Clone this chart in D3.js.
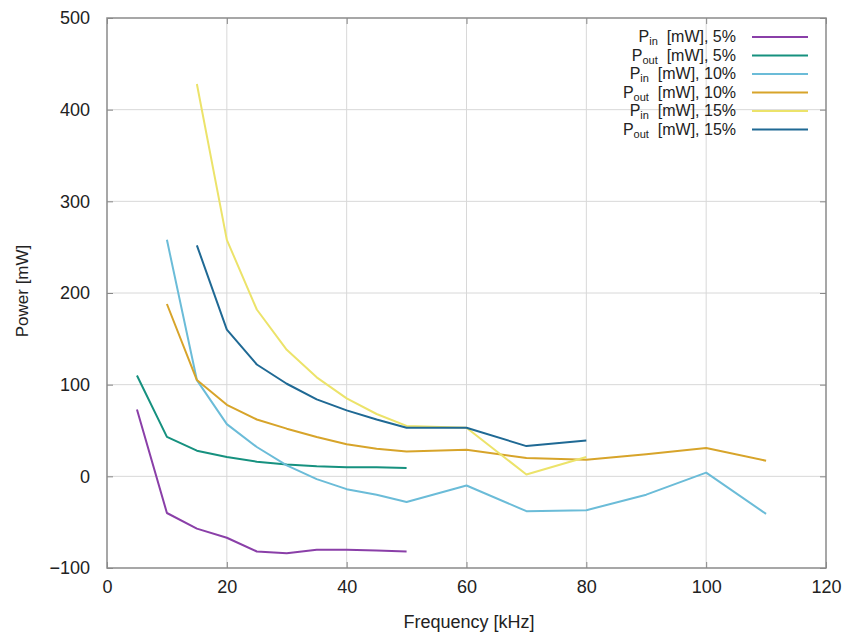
<!DOCTYPE html>
<html>
<head>
<meta charset="utf-8">
<script src="https://cdn.jsdelivr.net/npm/d3@7"></script>
<style>
  body { margin: 0; background: #fff; }
  svg text { font-family: "Liberation Sans", Arial, sans-serif; fill: #222; }
</style>
</head>
<body>
<div id="chart"></div>
<script>
// frequencies (kHz)
const freqShort = [5, 10, 15, 20, 25, 30, 35, 40, 45, 50];
const freqMid = [10, 15, 20, 25, 30, 35, 40, 45, 50, 60, 70, 80, 90, 100, 110];
const freqHigh = [15, 20, 25, 30, 35, 40, 45, 50, 60, 70, 80];

// power values (mW)
const pin5 = [73, -40, -57, -67, -82, -84, -80, -80, -81, -82];
const pout5 = [110, 43, 28, 21, 16, 13, 11, 10, 10, 9];
const pin10 = [258, 105, 57, 32, 12, -3, -14, -20, -28, -10, -38, -37, -20, 4, -41];
const pout10 = [188, 105, 78, 62, 52, 43, 35, 30, 27, 29, 20, 18, 24, 31, 17];
const pin15 = [428, 258, 182, 138, 108, 85, 68, 55, 53, 2, 21];
const pout15 = [252, 160, 122, 101, 84, 72, 62, 53, 53, 33, 39];

const xTicks = [0, 20, 40, 60, 80, 100, 120];
const yTicks = [-100, 0, 100, 200, 300, 400, 500];

const series = [
  {sub: "in", pct: "5%", x: freqShort, y: pin5, color: "#8a3fa8"},
  {sub: "out", pct: "5%", x: freqShort, y: pout5, color: "#16917f"},
  {sub: "in", pct: "10%", x: freqMid, y: pin10, color: "#6bbcd8"},
  {sub: "out", pct: "10%", x: freqMid, y: pout10, color: "#d7a42a"},
  {sub: "in", pct: "15%", x: freqHigh, y: pin15, color: "#ece36a"},
  {sub: "out", pct: "15%", x: freqHigh, y: pout15, color: "#1f6994"}
];

const width = 852, height = 641;
const margin = {top: 18, right: 26, bottom: 73, left: 107};

const svg = d3.select("#chart").append("svg")
  .attr("width", width)
  .attr("height", height);

const x = d3.scaleLinear().domain([0, 120]).range([margin.left, width - margin.right]);
const y = d3.scaleLinear().domain([-100, 500]).range([height - margin.bottom, margin.top]);

// grid
svg.append("g")
  .selectAll("line.gx")
  .data(xTicks.slice(1, -1))
  .enter().append("line")
    .attr("x1", d => x(d)).attr("x2", d => x(d))
    .attr("y1", y(-100)).attr("y2", y(500))
    .attr("stroke", "#d8d8d8").attr("stroke-width", 1);
svg.append("g")
  .selectAll("line.gy")
  .data(yTicks.slice(1, -1))
  .enter().append("line")
    .attr("x1", x(0)).attr("x2", x(120))
    .attr("y1", d => y(d)).attr("y2", d => y(d))
    .attr("stroke", "#d8d8d8").attr("stroke-width", 1);

// axes
const xAxis = svg.append("g")
  .attr("transform", "translate(0," + y(-100) + ")")
  .call(d3.axisBottom(x).tickValues(xTicks).tickSize(-6).tickPadding(12).tickSizeOuter(0));
const yAxis = svg.append("g")
  .attr("transform", "translate(" + x(0) + ",0)")
  .call(d3.axisLeft(y).tickValues(yTicks).tickSize(-6).tickPadding(17).tickSizeOuter(0));
[xAxis, yAxis].forEach(a => {
  a.selectAll("text").style("font-size", "18px").attr("fill", "#222");
  a.selectAll("line").attr("stroke", "#888");
  a.select(".domain").remove();
});

// mirror ticks on top and right
svg.append("g")
  .attr("transform", "translate(0," + y(500) + ")")
  .call(d3.axisTop(x).tickValues(xTicks).tickSize(-6).tickFormat(""))
  .call(g => { g.select(".domain").remove(); g.selectAll("line").attr("stroke", "#888"); });
svg.append("g")
  .attr("transform", "translate(" + x(120) + ",0)")
  .call(d3.axisRight(y).tickValues(yTicks).tickSize(-6).tickFormat(""))
  .call(g => { g.select(".domain").remove(); g.selectAll("line").attr("stroke", "#888"); });

// border
svg.append("rect")
  .attr("x", x(0)).attr("y", y(500))
  .attr("width", x(120) - x(0)).attr("height", y(-100) - y(500))
  .attr("fill", "none").attr("stroke", "#8a8a8a").attr("stroke-width", 1.5);

// lines
const line = d3.line().x(d => x(d[0])).y(d => y(d[1]));
series.forEach(s => {
  svg.append("path")
    .datum(s.x.map((f, i) => [f, s.y[i]]))
    .attr("d", line)
    .attr("fill", "none")
    .attr("stroke", s.color)
    .attr("stroke-width", 2)
    .attr("stroke-linejoin", "round");
});

// legend
const legend = svg.append("g");
series.forEach((s, i) => {
  const ly = 37 + i * 18.5;
  const t = legend.append("text")
    .attr("x", 736).attr("y", ly + 5)
    .attr("text-anchor", "end")
    .style("font-size", "16px");
  t.append("tspan").text("P");
  t.append("tspan").attr("dy", 3).style("font-size", "11px").text(s.sub);
  t.append("tspan").attr("dy", -3).text("  [mW], " + s.pct).attr("xml:space", "preserve");
  legend.append("line")
    .attr("x1", 752).attr("x2", 808)
    .attr("y1", ly).attr("y2", ly)
    .attr("stroke", s.color).attr("stroke-width", 2);
});

// axis titles
svg.append("text")
  .attr("x", 469).attr("y", 628)
  .attr("text-anchor", "middle")
  .style("font-size", "18px")
  .text("Frequency [kHz]");
svg.append("text")
  .attr("transform", "translate(28," + (y(200) - 2) + ") rotate(-90)")
  .attr("text-anchor", "middle")
  .style("font-size", "17px")
  .text("Power [mW]");
</script>
</body>
</html>
